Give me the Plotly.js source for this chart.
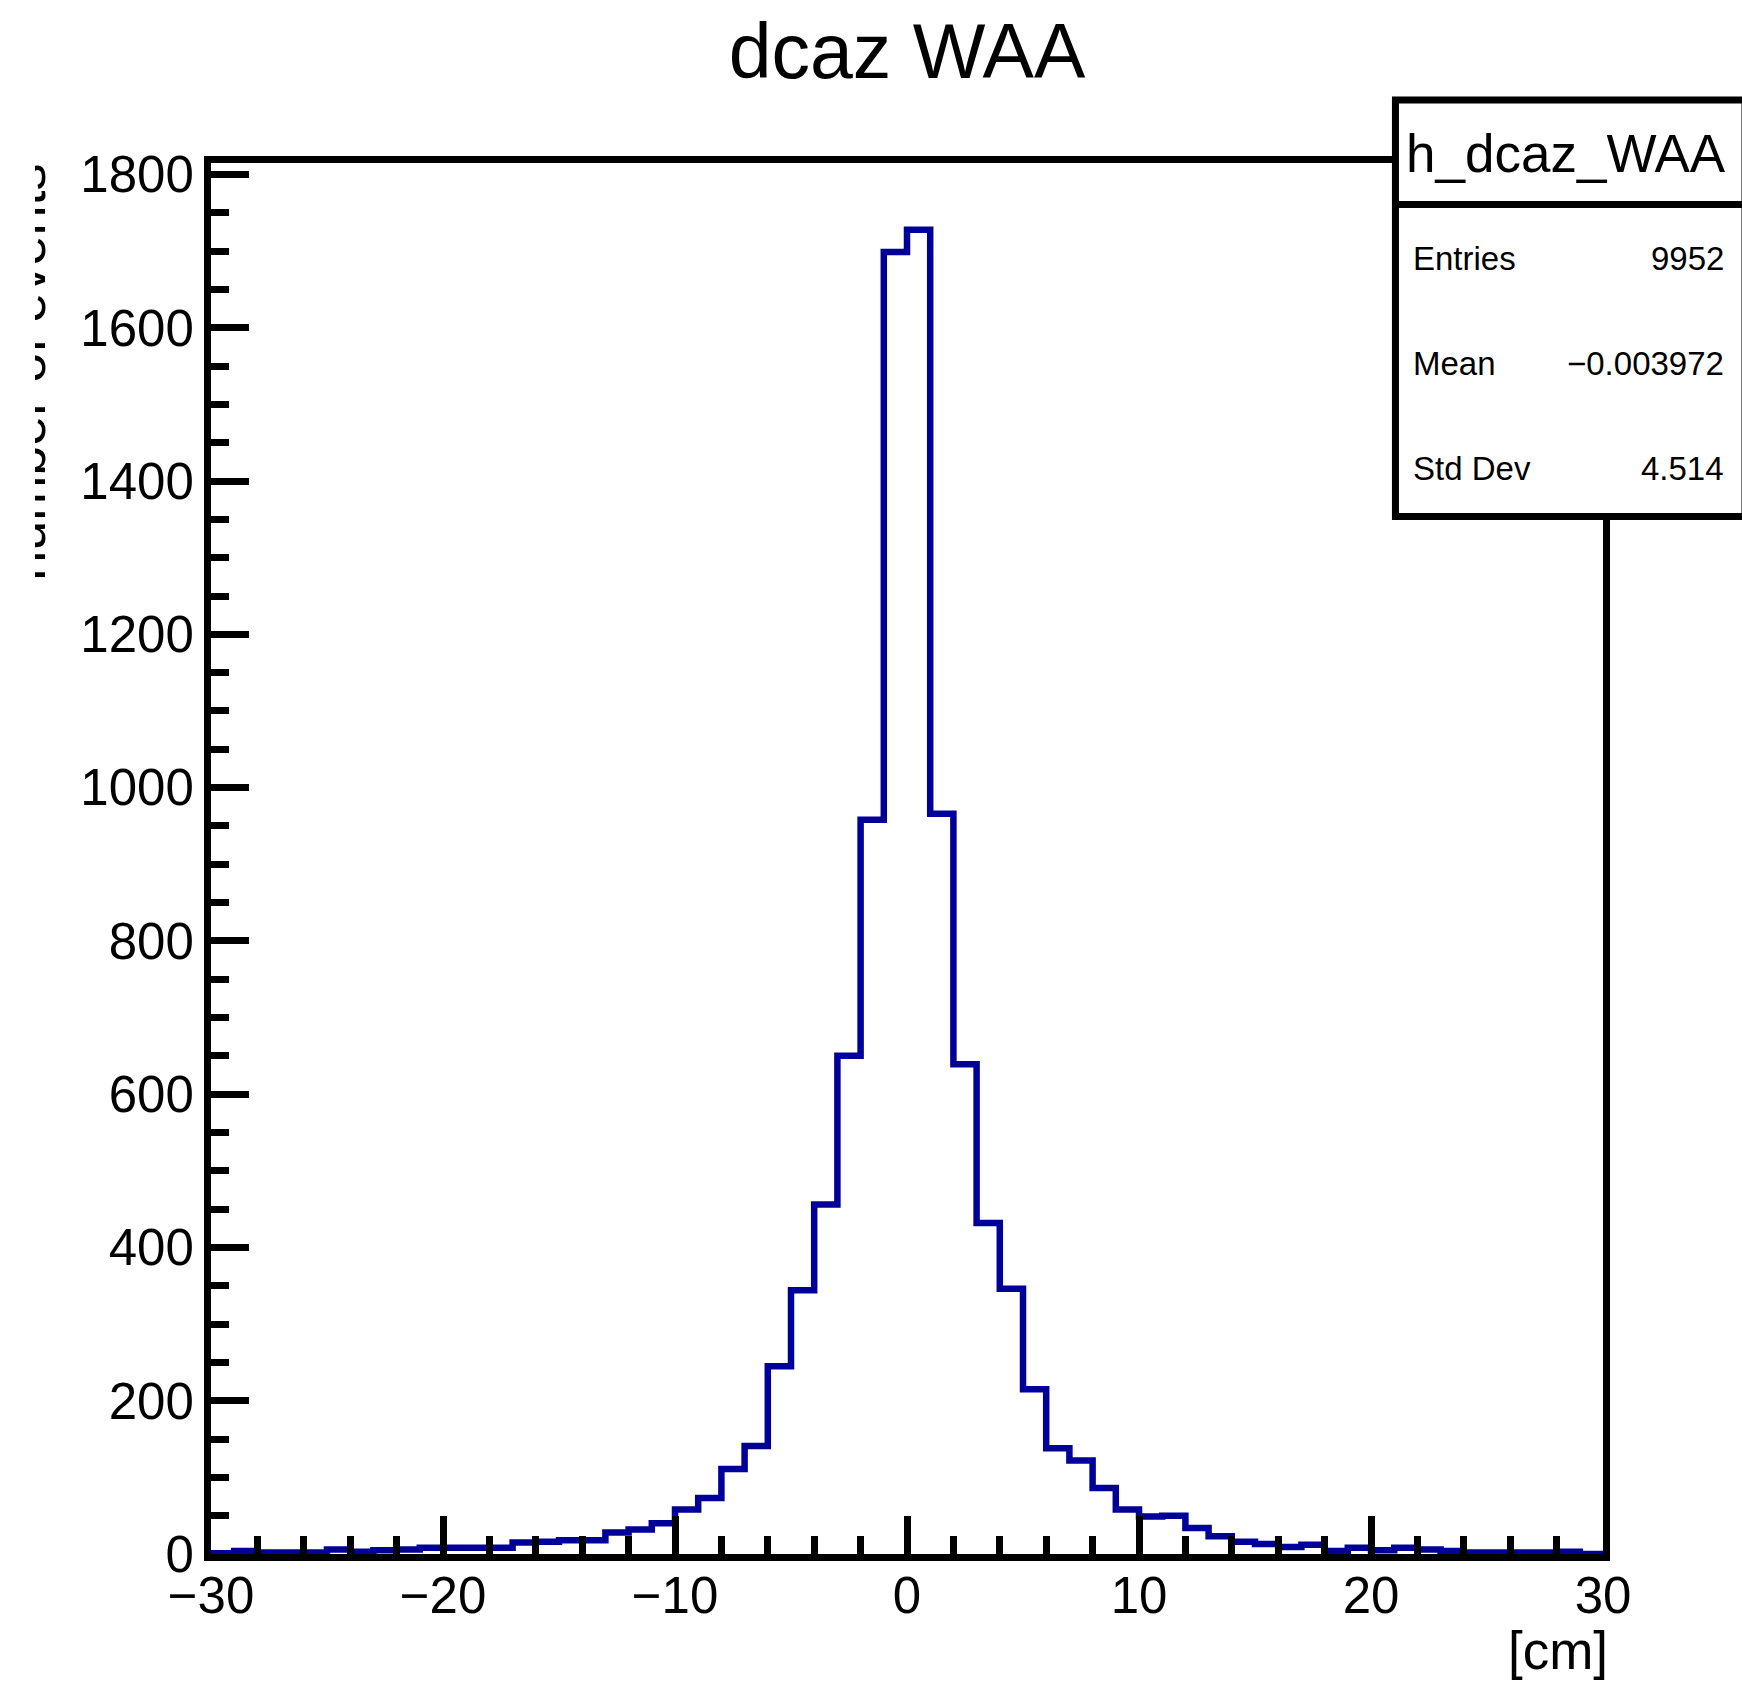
<!DOCTYPE html>
<html>
<head>
<meta charset="utf-8">
<script src="https://cdn.plot.ly/plotly-3.0.1.min.js"></script>
<style>html,body{margin:0;padding:0;background:#fff;overflow:hidden}</style>
</head>
<body>
<div id="chart" style="width:1742px;height:1684px"></div>
<script>
// Histogram h_dcaz_WAA : 60 bins from -30 to 30 cm
const binLow = -30;
const binWidth = 1;
const counts = [
  1, 4, 2, 2, 2, 6, 3, 5, 6, 8,
  8, 8, 8, 15, 16, 18, 18, 28, 32, 40,
  58, 73, 111, 141, 245, 344, 456, 650, 958, 1699,
  1728, 966, 639, 432, 346, 215, 138, 122, 86, 58,
  49, 50, 34, 23, 16, 13, 9, 12, 4, 8,
  5, 8, 6, 4, 2, 2, 2, 2, 3, 0
];
const statLabels = ["Entries", "Mean", "Std Dev"];
const statValues = ["9952", "\u22120.003972", "4.514"];
const histName = "h_dcaz_WAA";
const chartTitle = "dcaz WAA";
const xTitle = "[cm]";
const yTitle = "number of events";

// step outline built from the bin definition
const xs = [binLow];
const ys = [0];
counts.forEach((c, i) => { xs.push(binLow + i * binWidth); ys.push(c); });
const binHigh = binLow + counts.length * binWidth;
xs.push(binHigh); ys.push(counts[counts.length - 1]);
xs.push(binHigh); ys.push(0);

const FONT = "Liberation Sans, Arial, Helvetica, sans-serif";

const trace = {
  type: "scatter",
  mode: "lines",
  x: xs,
  y: ys,
  line: {shape: "hv", color: "#000099", width: 6.5},
  hoverinfo: "skip"
};

const axisCommon = {
  showline: true, linecolor: "black", linewidth: 7, mirror: true,
  ticks: "inside", ticklen: 38, tickwidth: 7, tickcolor: "black",
  showgrid: false, zeroline: false,
  tickfont: {family: FONT, size: 51, color: "black"}
};

const annotations = [];
// y-axis title, partly cut off at the left edge as in the original
annotations.push({
  text: yTitle, textangle: -90, showarrow: false,
  xref: "paper", yref: "paper", x: -0.1327, y: 0.8494,
  xanchor: "center", yanchor: "middle",
  font: {family: FONT, size: 54, color: "black"}
});
annotations.push({
  text: " ", showarrow: false, xref: "paper", yref: "paper",
  x: -0.1390, y: 0.8440, xanchor: "center", yanchor: "middle",
  width: 35, height: 480, bgcolor: "white", borderpad: 0, borderwidth: 0
});
// x-axis title, right aligned
annotations.push({
  text: xTitle, showarrow: false, xref: "paper", yref: "paper",
  x: 1.005, y: -0.0694, xanchor: "right", yanchor: "middle",
  font: {family: FONT, size: 53, color: "black"}
});
// stats box title
annotations.push({
  text: histName, showarrow: false, xref: "paper", yref: "paper",
  x: 0.9731, y: 1.0070, xanchor: "center", yanchor: "middle",
  font: {family: FONT, size: 53, color: "black"}
});
const rowY = [0.9313, 0.8558, 0.7803];
statLabels.forEach((lab, i) => {
  annotations.push({
    text: lab, showarrow: false, xref: "paper", yref: "paper",
    x: 0.8619, y: rowY[i], xanchor: "left", yanchor: "middle",
    font: {family: FONT, size: 33, color: "black"}
  });
  annotations.push({
    text: statValues[i], showarrow: false, xref: "paper", yref: "paper",
    x: 1.0886, y: rowY[i], xanchor: "right", yanchor: "middle",
    font: {family: FONT, size: 33, color: "black"}
  });
});

const layout = {
  width: 1742, height: 1684,
  margin: {l: 211, r: 139, t: 163, b: 130, pad: 0},
  paper_bgcolor: "white", plot_bgcolor: "white",
  showlegend: false,
  title: {
    text: chartTitle, x: 0.5, xref: "paper", xanchor: "center",
    y: 0.9697, yref: "container", yanchor: "middle",
    font: {family: FONT, size: 77, color: "black"}
  },
  xaxis: Object.assign({}, axisCommon, {
    range: [binLow, binHigh], dtick: 10, tick0: 0, ticklabelstandoff: -9,
    minor: {dtick: 2, ticks: "inside", ticklen: 18, tickwidth: 7, tickcolor: "black"}
  }),
  yaxis: Object.assign({}, axisCommon, {
    range: [0, 1815], dtick: 200, tick0: 0,
    minor: {dtick: 50, ticks: "inside", ticklen: 18, tickwidth: 7, tickcolor: "black"}
  }),
  shapes: [
    {type: "rect", xref: "paper", yref: "paper", x0: 0.8509, x1: 1.1020, y0: 0.7459, y1: 1.0453,
     fillcolor: "white", line: {color: "black", width: 7}, layer: "above"},
    {type: "line", xref: "paper", yref: "paper", x0: 0.8509, x1: 1.1020, y0: 0.9702, y1: 0.9702,
     line: {color: "black", width: 7}, layer: "above"}
  ],
  annotations: annotations
};

Plotly.newPlot("chart", [trace], layout, {displayModeBar: false, staticPlot: true});
</script>
</body>
</html>
